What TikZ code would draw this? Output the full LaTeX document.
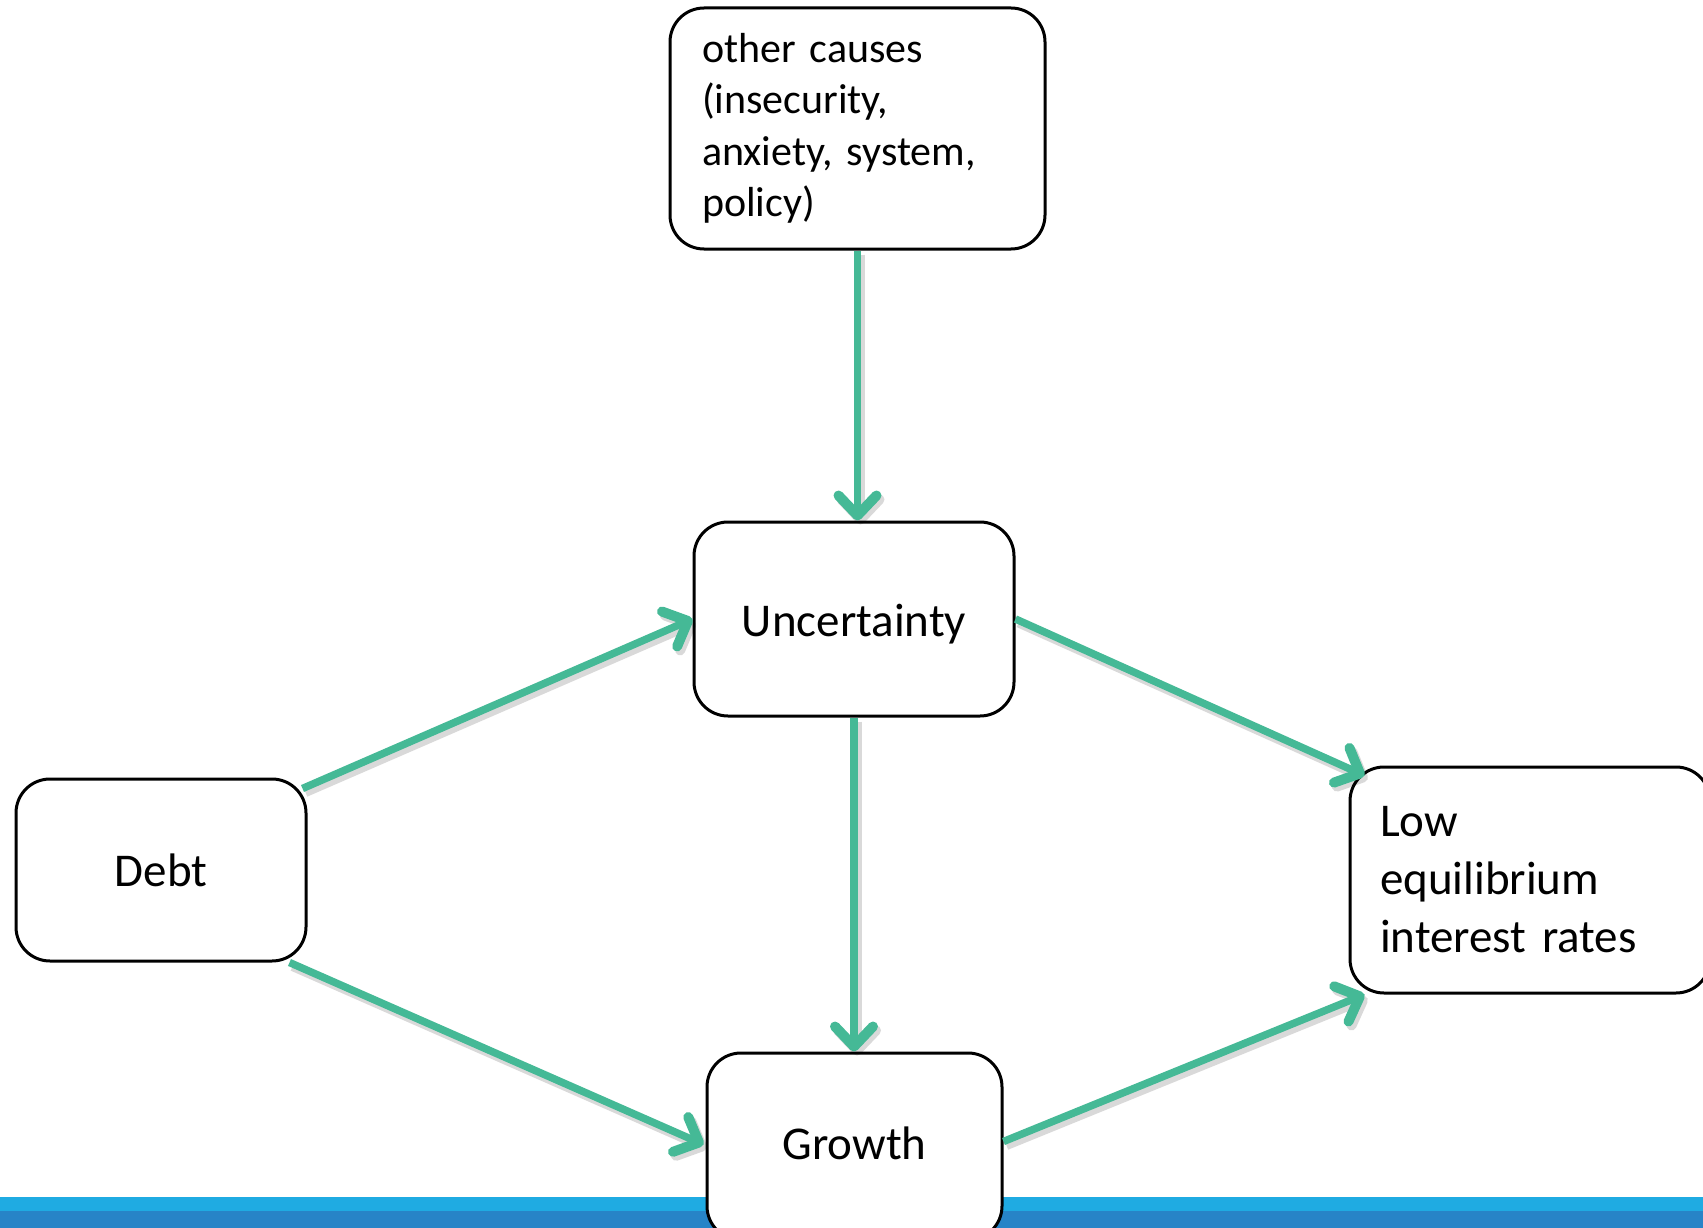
\documentclass[tikz,border=0pt]{standalone}
\usepackage{fontspec}
\setmainfont{Carlito}
\usetikzlibrary{arrows.meta,calc}
\definecolor{arrowc}{RGB}{69,185,150}
\definecolor{barlight}{RGB}{31,171,226}
\definecolor{bardark}{RGB}{39,132,199}
\tikzset{
  box/.style={draw=black, line width=3pt, rounded corners=34pt, fill=white, inner sep=0pt, font=\fontsize{47}{58}\selectfont},
  conn/.style={draw=arrowc, line width=7.5pt,
    -{Straight Barb[length=20pt,width=38pt,round,line width=10pt]},
    preaction={draw=black, draw opacity=0.15, line width=9pt, transform canvas={shift={(3pt,-4pt)}}}},
}
\begin{document}
\begin{tikzpicture}[x=1pt,y=-1pt]
\useasboundingbox (0,0) rectangle (1703,1228);
\clip (0,0) rectangle (1703,1228);
\fill[barlight] (0,1197) rectangle (1703,1211);
\fill[bardark] (0,1211) rectangle (1703,1228);

\node[box, minimum height=241pt, text width=311pt, inner xsep=32pt, align=left, font=\fontsize{42}{51.4}\selectfont] (top) at (857.5,128.5)
  {other causes\\(insecurity,\\anxiety, system,\\policy)};
\node[box, minimum width=320pt, minimum height=194pt] (unc) at (854,619) {\raisebox{-5pt}[\height][\depth]{Uncertainty}};
\node[box, minimum width=290pt, minimum height=182pt] (debt) at (161,870) {Debt};
\node[box, minimum width=295pt, minimum height=187pt] (growth) at (854.5,1146.5) {\raisebox{3pt}[\height][\depth]{Growth}};
\node[box, minimum height=226pt, text width=300pt, inner xsep=30pt, align=left] (low) at (1530,880)
  {Low\\equilibrium\\interest rates};

\draw[conn] (top.south) -- (top.south |- unc.north);
\draw[conn] ($(debt.north east)+(-5,11)$) -- (unc.west);
\draw[conn] ($(debt.south east)+(-18,0)$) -- ($(growth.west)+(-2,-2)$);
\draw[conn] (unc.south) -- (unc.south |- growth.north);
\draw[conn] (unc.east) -- ($(low.north west)+(16,10)$);
\draw[conn] ($(growth.east)+(0,-5)$) -- ($(low.south west)+(16,0)$);
\end{tikzpicture}
\end{document}
